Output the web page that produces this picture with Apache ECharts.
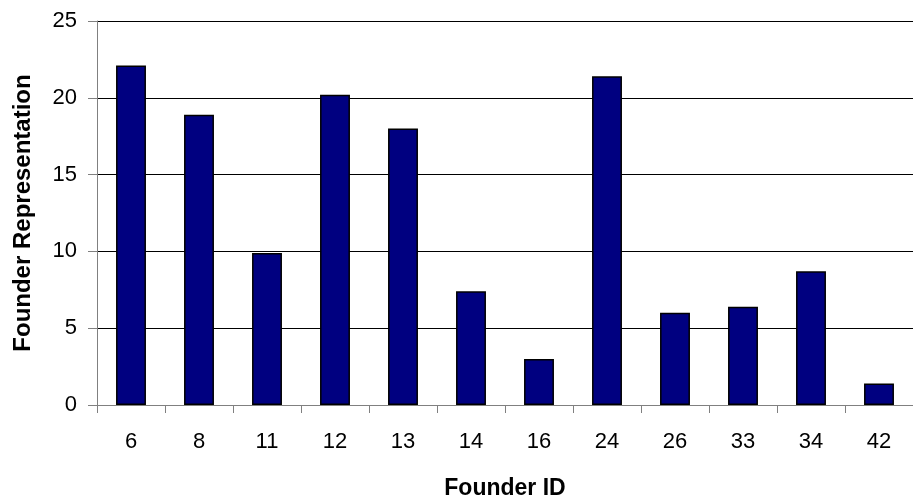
<!DOCTYPE html>
<html>
<head>
<meta charset="utf-8">
<script src="https://cdn.jsdelivr.net/npm/echarts@6/dist/echarts.min.js"></script>
<style>
    html,body{margin:0;padding:0;background:#fff;}
    #chart{width:913px;height:500px;}
</style>
</head>
<body>
<div id="chart"></div>
<script>
// founder ids on the x axis
var founderIds = ['6','8','11','12','13','14','16','24','26','33','34','42'];
// representation per founder
var representation = [22.1, 18.9, 9.9, 20.2, 18.0, 7.4, 3.0, 21.4, 6.0, 6.4, 8.7, 1.4];
var yTicks = [0, 5, 10, 15, 20, 25];

var myChart = echarts.init(document.getElementById('chart'));
var option = {
    animation:false,
    textStyle:{ fontFamily:'Liberation Sans, Arial, sans-serif' },
    grid:{
        left:97,
        right:0,
        top:21,
        bottom:95,
        outerBoundsMode:'none'
    },
    xAxis:{
        type:'category',
        data:founderIds,
        name:'Founder ID',
        nameLocation:'middle',
        nameGap:72,
        nameTextStyle:{ fontSize:23, fontWeight:'bold', color:'#000' },
        axisLine:{ lineStyle:{ color:'#808080', width:1 } },
        axisTick:{ show:true, length:8, lineStyle:{ color:'#808080' } },
        axisLabel:{ fontSize:22, color:'#000', margin:26 }
    },
    yAxis:{
        type:'value',
        min:yTicks[0],
        max:yTicks[yTicks.length-1],
        interval:5,
        name:'Founder Representation',
        nameLocation:'middle',
        nameGap:62,
        nameTextStyle:{ fontSize:24, fontWeight:'bold', color:'#000' },
        axisLine:{ show:true, lineStyle:{ color:'#808080', width:1 } },
        axisTick:{ show:true, length:9, lineStyle:{ color:'#808080' } },
        axisLabel:{ fontSize:22, color:'#000', margin:20 },
        splitLine:{ show:true, lineStyle:{ color:'#000', width:1 } }
    },
    series:[{
        type:'bar',
        data:representation,
        barWidth:'44%',
        itemStyle:{ color:'#000080', borderColor:'#000', borderWidth:1.5 }
    }]
};
myChart.setOption(option);
</script>
</body>
</html>
